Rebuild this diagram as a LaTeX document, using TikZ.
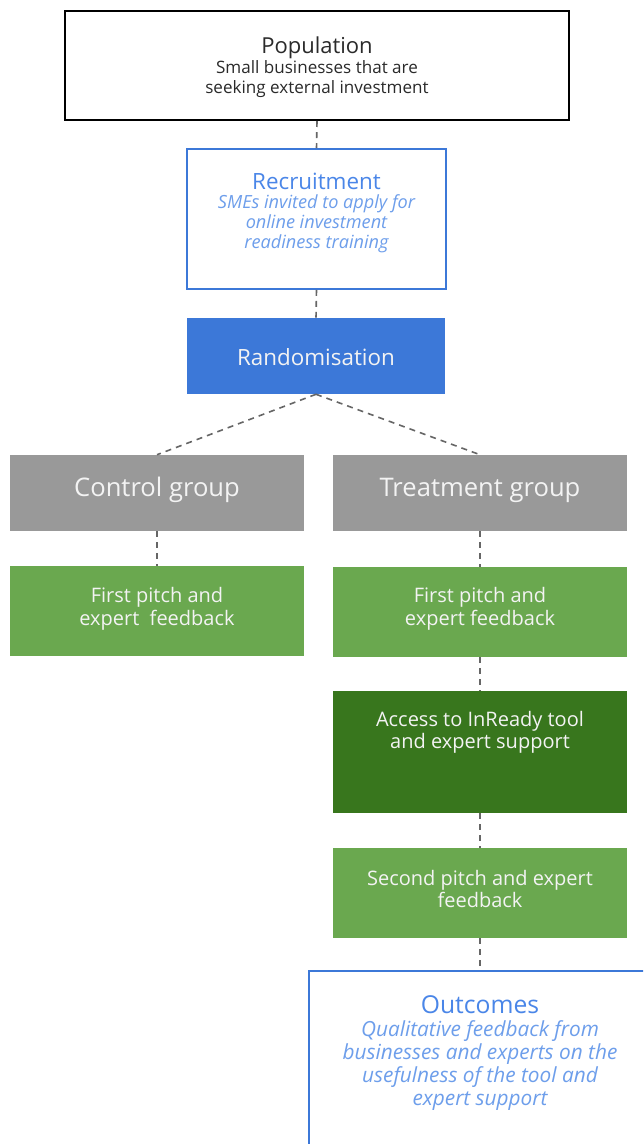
\documentclass[tikz,border=0pt]{standalone}
\usepackage{fontspec}
\setmainfont{Open Sans}
\definecolor{rblue}{HTML}{3C78D8}
\definecolor{tblue}{HTML}{4A86E8}
\definecolor{iblue}{HTML}{6D9EEB}
\definecolor{gfill}{HTML}{999999}
\definecolor{lgreen}{HTML}{6AA84F}
\definecolor{dgreen}{HTML}{38761D}
\definecolor{conn}{HTML}{666666}
\definecolor{ltext}{HTML}{F3F3F3}
\definecolor{dtext}{HTML}{2A2A2A}
\newcommand{\fs}[2]{\fontsize{#1}{#2}\selectfont}
\tikzset{
  box/.style={rectangle, inner sep=0pt},
  wide/.style={minimum width=220.5pt},
  txt/.style={inner sep=0pt, align=center},
  link/.style={draw=conn, line width=1.2pt, dash pattern=on 4.5pt off 3.8pt},
}
\begin{document}
\begin{tikzpicture}[x=0.75pt,y=-0.75pt]
\clip (0,0) rectangle (643,1144);
\fill[white] (0,0) rectangle (643,1144);

% boxes
\node[box, draw=black, line width=1.5pt, minimum width=378pt, minimum height=81.75pt] (pop) at (317,65.5) {};
\node[box, draw=rblue, line width=1.2pt, minimum width=194.25pt, minimum height=105pt] (rec) at (316.5,219) {};
\node[box, fill=rblue, minimum width=193.5pt, minimum height=57pt] (rand) at (316,356) {};
\node[box, wide, fill=gfill, minimum height=57pt] (ctrl) at (157,493) {};
\node[box, wide, fill=gfill, minimum height=57pt] (treat) at (480,493) {};
\node[box, wide, fill=lgreen, minimum height=67.5pt] (fp1) at (157,611) {};
\node[box, wide, fill=lgreen, minimum height=67.5pt] (fp2) at (480,612) {};
\node[box, wide, fill=dgreen, minimum height=91.5pt] (acc) at (480,752) {};
\node[box, wide, fill=lgreen, minimum height=67.5pt] (sp) at (480,893) {};
\node[box, draw=rblue, line width=1.2pt, minimum width=256.5pt, minimum height=149.25pt] (out) at (480,1070.5) {};

% texts
\node[txt, text=dtext, font=\fs{16.5}{19}] (popT) at (317,48) {Population};
\node[txt, text=dtext, font=\fs{12.8}{15}] (popB) at (317,79) {Small businesses that are\\seeking external investment};
\node[txt, text=tblue, font=\fs{16.8}{19}] (recT) at (316.5,181) {Recruitment};
\node[txt, text=iblue, font=\fs{13.6}{15}\itshape] (recB) at (316.5,223.5) {SMEs invited to apply for\\online investment\\readiness training};
\node[txt, text=ltext, font=\fs{16.8}{20}] (randT) at (316,357) {Randomisation};
\node[txt, text=ltext, font=\fs{19.2}{22}] (ctrlT) at (157,490) {Control group};
\node[txt, text=ltext, font=\fs{19.2}{22}] (treatT) at (480,490) {Treatment group};
\node[txt, text=ltext, font=\fs{15}{17.25}] (fp1T) at (157,608.5) {First pitch and\\expert\ \ feedback};
\node[txt, text=ltext, font=\fs{15}{17.25}] (fp2T) at (480,608.5) {First pitch and\\expert feedback};
\node[txt, text=ltext, font=\fs{15}{16.5}] (accT) at (480,732) {Access to InReady tool\\and expert support};
\node[txt, text=ltext, font=\fs{15}{16.5}] (spT) at (480,888.5) {Second pitch and expert\\feedback};
\node[txt, text=tblue, font=\fs{18.5}{21}] (outT) at (480,1005) {Outcomes};
\node[txt, text=iblue, font=\fs{15.6}{17.25}\itshape] (outB) at (480,1066) {Qualitative feedback from\\businesses and experts on the\\usefulness of the tool and\\expert support};

% connectors
\draw[link] (pop.south) -- (rec.north);
\draw[link] (rec.south) -- (rand.north);
\draw[link] (rand.south) -- (ctrl.north);
\draw[link] (rand.south) -- (treat.north);
\draw[link] (ctrl.south) -- (fp1.north);
\draw[link] (treat.south) -- (fp2.north);
\draw[link] (fp2.south) -- (acc.north);
\draw[link] (acc.south) -- (sp.north);
\draw[link] (sp.south) -- (out.north);
\end{tikzpicture}
\end{document}
